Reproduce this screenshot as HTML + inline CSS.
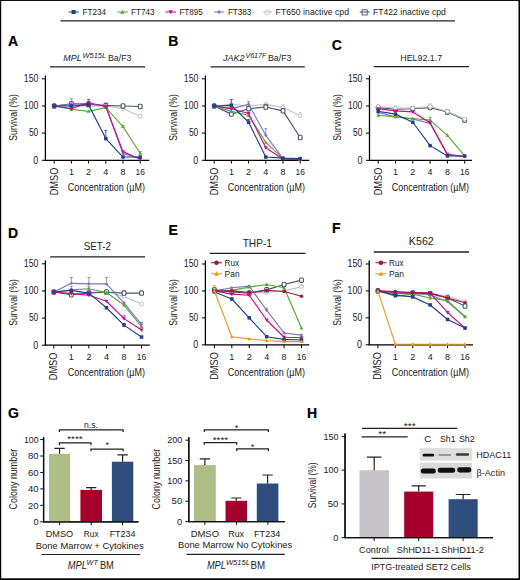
<!DOCTYPE html><html><head><meta charset="utf-8"><style>html,body{margin:0;padding:0;background:#fff;}svg{display:block;} text{font-family:"Liberation Sans", sans-serif;stroke:none;}</style></head><body>
<svg width="520" height="580" viewBox="0 0 520 580">
<rect x="0" y="0" width="520" height="580" fill="#fff"/>
<path d="M68.5 12H78.7" stroke="#21408a" stroke-width="1"/>
<rect x="71.60" y="10.00" width="4.00" height="4.00" fill="#21408a"/>
<text x="82.5" y="15.2" font-size="8.6" text-anchor="start" font-weight="normal" font-style="normal" fill="#222" textLength="23.5" lengthAdjust="spacingAndGlyphs">FT234</text>
<path d="M116.9 12H128" stroke="#58a932" stroke-width="1"/>
<path d="M122.45 9.70L124.65 13.70L120.25 13.70Z" fill="#58a932"/>
<text x="131" y="15.2" font-size="8.6" text-anchor="start" font-weight="normal" font-style="normal" fill="#222" textLength="23.5" lengthAdjust="spacingAndGlyphs">FT743</text>
<path d="M165.4 12H176" stroke="#cc0c82" stroke-width="1"/>
<path d="M170.70 14.30L172.90 10.30L168.50 10.30Z" fill="#cc0c82"/>
<text x="179.4" y="15.2" font-size="8.6" text-anchor="start" font-weight="normal" font-style="normal" fill="#222" textLength="23.5" lengthAdjust="spacingAndGlyphs">FT895</text>
<path d="M214 12H224" stroke="#8174c0" stroke-width="1"/>
<path d="M219.00 10.00L221.00 12.00L219.00 14.00L217.00 12.00Z" fill="#8174c0"/>
<text x="227.9" y="15.2" font-size="8.6" text-anchor="start" font-weight="normal" font-style="normal" fill="#222" textLength="23.5" lengthAdjust="spacingAndGlyphs">FT383</text>
<path d="M262.5 12H272" stroke="#c4c4c4" stroke-width="1"/>
<circle cx="267.25" cy="12.40" r="2.60" fill="none" stroke="#c4c4c4" stroke-width="0.9"/>
<text x="275.6" y="15.2" font-size="8.6" text-anchor="start" font-weight="normal" font-style="normal" fill="#222" textLength="73.4" lengthAdjust="spacingAndGlyphs">FT650 inactive cpd</text>
<path d="M359.7 12H369.6" stroke="#4a5470" stroke-width="1"/>
<rect x="362.05" y="9.80" width="5.20" height="5.20" fill="none" stroke="#4a5470" stroke-width="0.9"/>
<text x="373" y="15.2" font-size="8.6" text-anchor="start" font-weight="normal" font-style="normal" fill="#222" textLength="72.8" lengthAdjust="spacingAndGlyphs">FT422 inactive cpd</text>
<path d="M60.4 20.8H455" stroke="#222" stroke-width="1.3"/>
<text x="8.1" y="46" font-size="14.0" text-anchor="start" font-weight="bold" font-style="normal" fill="#000" style="stroke:#000;stroke-width:0.2px">A</text>
<text x="168.3" y="45.8" font-size="14.0" text-anchor="start" font-weight="bold" font-style="normal" fill="#000" style="stroke:#000;stroke-width:0.2px">B</text>
<text x="331.8" y="49.6" font-size="14.0" text-anchor="start" font-weight="bold" font-style="normal" fill="#000" style="stroke:#000;stroke-width:0.2px">C</text>
<text x="8.1" y="237.7" font-size="14.0" text-anchor="start" font-weight="bold" font-style="normal" fill="#000" style="stroke:#000;stroke-width:0.2px">D</text>
<text x="168.5" y="234.6" font-size="14.0" text-anchor="start" font-weight="bold" font-style="normal" fill="#000" style="stroke:#000;stroke-width:0.2px">E</text>
<text x="332" y="232.9" font-size="14.0" text-anchor="start" font-weight="bold" font-style="normal" fill="#000" style="stroke:#000;stroke-width:0.2px">F</text>
<text x="8.1" y="417.9" font-size="14.0" text-anchor="start" font-weight="bold" font-style="normal" fill="#000" style="stroke:#000;stroke-width:0.2px">G</text>
<text x="307.1" y="418.1" font-size="14.0" text-anchor="start" font-weight="bold" font-style="normal" fill="#000" style="stroke:#000;stroke-width:0.2px">H</text>
<path d="M50 66.9H145" stroke="#222" stroke-width="1.3"/>
<text x="63.3" y="60.7" font-size="9.9" text-anchor="start" font-weight="normal" font-style="italic" fill="#222" textLength="18.4" lengthAdjust="spacingAndGlyphs">MPL</text>
<text x="82.5" y="57.6" font-size="7.4" text-anchor="start" font-weight="normal" font-style="italic" fill="#222" textLength="23.6" lengthAdjust="spacingAndGlyphs">W515L</text>
<text x="108.0" y="60.7" font-size="9.9" text-anchor="start" font-weight="normal" font-style="normal" fill="#222" textLength="23.5" lengthAdjust="spacingAndGlyphs">Ba/F3</text>
<path d="M210.5 66.9H304.8" stroke="#222" stroke-width="1.3"/>
<text x="222.9" y="60.7" font-size="9.9" text-anchor="start" font-weight="normal" font-style="italic" fill="#222" textLength="21.6" lengthAdjust="spacingAndGlyphs">JAK2</text>
<text x="245.4" y="57.6" font-size="7.4" text-anchor="start" font-weight="normal" font-style="italic" fill="#222" textLength="21.0" lengthAdjust="spacingAndGlyphs">V617F</text>
<text x="268.0" y="60.7" font-size="9.9" text-anchor="start" font-weight="normal" font-style="normal" fill="#222" textLength="23.5" lengthAdjust="spacingAndGlyphs">Ba/F3</text>
<path d="M373.7 66.7H469" stroke="#222" stroke-width="1.3"/>
<text x="421.2" y="60.6" font-size="9.9" text-anchor="middle" font-weight="normal" font-style="normal" fill="#222" textLength="41.8" lengthAdjust="spacingAndGlyphs">HEL92.1.7</text>
<text transform="translate(16.7,117.4) rotate(-90)" font-size="10.4" text-anchor="middle" fill="#222" textLength="46.6" lengthAdjust="spacingAndGlyphs">Survival (%)</text>
<text x="67.7" y="191.2" font-size="11.3" fill="#222" textLength="77.3" lengthAdjust="spacingAndGlyphs">Concentration (&#181;M)</text>
<path d="M45.4 75.39999999999999V160.3H149.2" fill="none" stroke="#000" stroke-width="1.3"/>
<path d="M41.9 160.30H45.4" stroke="#000" stroke-width="1"/>
<text x="38.3" y="163.65" font-size="10.1" text-anchor="end" font-weight="normal" font-style="normal" fill="#222" textLength="5.0" lengthAdjust="spacingAndGlyphs">0</text>
<path d="M41.9 133.13H45.4" stroke="#000" stroke-width="1"/>
<text x="38.3" y="136.48" font-size="10.1" text-anchor="end" font-weight="normal" font-style="normal" fill="#222" textLength="9.4" lengthAdjust="spacingAndGlyphs">50</text>
<path d="M41.9 105.97H45.4" stroke="#000" stroke-width="1"/>
<text x="38.3" y="109.32" font-size="10.1" text-anchor="end" font-weight="normal" font-style="normal" fill="#222" textLength="14.5" lengthAdjust="spacingAndGlyphs">100</text>
<path d="M41.9 78.80H45.4" stroke="#000" stroke-width="1"/>
<text x="38.3" y="82.15" font-size="10.1" text-anchor="end" font-weight="normal" font-style="normal" fill="#222" textLength="14.5" lengthAdjust="spacingAndGlyphs">150</text>
<path d="M54.20 160.3V163.60000000000002" stroke="#000" stroke-width="1"/>
<path d="M71.40 160.3V163.60000000000002" stroke="#000" stroke-width="1"/>
<text x="71.40" y="175.40" font-size="9.9" text-anchor="middle" font-weight="normal" font-style="normal" fill="#222" textLength="5.0" lengthAdjust="spacingAndGlyphs">1</text>
<path d="M88.60 160.3V163.60000000000002" stroke="#000" stroke-width="1"/>
<text x="88.60" y="175.40" font-size="9.9" text-anchor="middle" font-weight="normal" font-style="normal" fill="#222" textLength="5.0" lengthAdjust="spacingAndGlyphs">2</text>
<path d="M105.80 160.3V163.60000000000002" stroke="#000" stroke-width="1"/>
<text x="105.80" y="175.40" font-size="9.9" text-anchor="middle" font-weight="normal" font-style="normal" fill="#222" textLength="5.0" lengthAdjust="spacingAndGlyphs">4</text>
<path d="M123.00 160.3V163.60000000000002" stroke="#000" stroke-width="1"/>
<text x="123.00" y="175.40" font-size="9.9" text-anchor="middle" font-weight="normal" font-style="normal" fill="#222" textLength="5.0" lengthAdjust="spacingAndGlyphs">8</text>
<path d="M140.20 160.3V163.60000000000002" stroke="#000" stroke-width="1"/>
<text x="140.20" y="175.40" font-size="9.9" text-anchor="middle" font-weight="normal" font-style="normal" fill="#222" textLength="9.4" lengthAdjust="spacingAndGlyphs">16</text>
<text transform="translate(57.50,167.70) rotate(-90)" font-size="10.4" text-anchor="end" fill="#222" textLength="27.6" lengthAdjust="spacingAndGlyphs">DMSO</text>
<path d="M54.20 105.97L71.40 105.97L88.60 105.97L105.80 105.97L123.00 108.68L140.20 116.29" fill="none" stroke="#c4c4c4" stroke-width="1.15" stroke-linejoin="round"/>
<circle cx="54.20" cy="105.97" r="1.9" fill="#fff" stroke="#b8b8b8" stroke-width="0.9"/>
<circle cx="71.40" cy="105.97" r="1.9" fill="#fff" stroke="#b8b8b8" stroke-width="0.9"/>
<circle cx="88.60" cy="105.97" r="1.9" fill="#fff" stroke="#b8b8b8" stroke-width="0.9"/>
<circle cx="105.80" cy="105.97" r="1.9" fill="#fff" stroke="#b8b8b8" stroke-width="0.9"/>
<circle cx="123.00" cy="108.68" r="1.9" fill="#fff" stroke="#b8b8b8" stroke-width="0.9"/>
<circle cx="140.20" cy="116.29" r="1.9" fill="#fff" stroke="#b8b8b8" stroke-width="0.9"/>
<path d="M54.20 105.97L71.40 103.79L88.60 104.34L105.80 105.42L123.00 105.97L140.20 106.51" fill="none" stroke="#4a5470" stroke-width="1.15" stroke-linejoin="round"/>
<rect x="52.30" y="103.77" width="3.8" height="4.4" rx="1.0" fill="#fff" stroke="#4a5470" stroke-width="1.1"/>
<rect x="69.50" y="101.59" width="3.8" height="4.4" rx="1.0" fill="#fff" stroke="#4a5470" stroke-width="1.1"/>
<rect x="86.70" y="102.14" width="3.8" height="4.4" rx="1.0" fill="#fff" stroke="#4a5470" stroke-width="1.1"/>
<rect x="103.90" y="103.22" width="3.8" height="4.4" rx="1.0" fill="#fff" stroke="#4a5470" stroke-width="1.1"/>
<rect x="121.10" y="103.77" width="3.8" height="4.4" rx="1.0" fill="#fff" stroke="#4a5470" stroke-width="1.1"/>
<rect x="138.30" y="104.31" width="3.8" height="4.4" rx="1.0" fill="#fff" stroke="#4a5470" stroke-width="1.1"/>
<path d="M54.20 105.97L71.40 104.34L88.60 103.25L105.80 106.51L123.00 153.78L140.20 158.13" fill="none" stroke="#8174c0" stroke-width="1.15" stroke-linejoin="round"/>
<path d="M71.40 104.34V98.90M69.80 98.90H73.00" stroke="#8174c0" stroke-width="0.8" fill="none"/>
<path d="M54.20 104.22L55.95 105.97L54.20 107.72L52.45 105.97Z" fill="#8174c0"/>
<path d="M71.40 102.59L73.15 104.34L71.40 106.09L69.65 104.34Z" fill="#8174c0"/>
<path d="M88.60 101.50L90.35 103.25L88.60 105.00L86.85 103.25Z" fill="#8174c0"/>
<path d="M105.80 104.76L107.55 106.51L105.80 108.26L104.05 106.51Z" fill="#8174c0"/>
<path d="M123.00 152.03L124.75 153.78L123.00 155.53L121.25 153.78Z" fill="#8174c0"/>
<path d="M140.20 156.38L141.95 158.13L140.20 159.88L138.45 158.13Z" fill="#8174c0"/>
<path d="M54.20 105.97L71.40 109.23L88.60 111.40L105.80 107.60L123.00 126.61L140.20 153.24" fill="none" stroke="#58a932" stroke-width="1.15" stroke-linejoin="round"/>
<path d="M123.00 126.61V125.53M121.40 125.53H124.60" stroke="#58a932" stroke-width="0.8" fill="none"/>
<path d="M140.20 153.24V151.61M138.60 151.61H141.80" stroke="#58a932" stroke-width="0.8" fill="none"/>
<path d="M54.20 103.92L56.15 107.42L52.25 107.42Z" fill="#58a932"/>
<path d="M71.40 107.18L73.35 110.68L69.45 110.68Z" fill="#58a932"/>
<path d="M88.60 109.35L90.55 112.85L86.65 112.85Z" fill="#58a932"/>
<path d="M105.80 105.55L107.75 109.05L103.85 109.05Z" fill="#58a932"/>
<path d="M123.00 124.56L124.95 128.06L121.05 128.06Z" fill="#58a932"/>
<path d="M140.20 151.19L142.15 154.69L138.25 154.69Z" fill="#58a932"/>
<path d="M54.20 105.97L71.40 108.68L88.60 102.71L105.80 106.51L123.00 151.61L140.20 159.21" fill="none" stroke="#cc0c82" stroke-width="1.15" stroke-linejoin="round"/>
<path d="M88.60 102.71V99.45M87.00 99.45H90.20" stroke="#cc0c82" stroke-width="0.8" fill="none"/>
<path d="M105.80 106.51V103.25M104.20 103.25H107.40" stroke="#cc0c82" stroke-width="0.8" fill="none"/>
<path d="M54.20 108.02L56.15 104.52L52.25 104.52Z" fill="#cc0c82"/>
<path d="M71.40 110.73L73.35 107.23L69.45 107.23Z" fill="#cc0c82"/>
<path d="M88.60 104.76L90.55 101.26L86.65 101.26Z" fill="#cc0c82"/>
<path d="M105.80 108.56L107.75 105.06L103.85 105.06Z" fill="#cc0c82"/>
<path d="M123.00 153.66L124.95 150.16L121.05 150.16Z" fill="#cc0c82"/>
<path d="M140.20 161.26L142.15 157.76L138.25 157.76Z" fill="#cc0c82"/>
<path d="M54.20 105.97L71.40 105.97L88.60 104.88L105.80 138.57L123.00 157.04L140.20 157.04" fill="none" stroke="#21408a" stroke-width="1.15" stroke-linejoin="round"/>
<path d="M105.80 138.57V130.42M104.20 130.42H107.40" stroke="#21408a" stroke-width="0.8" fill="none"/>
<rect x="52.45" y="104.22" width="3.50" height="3.50" fill="#21408a"/>
<rect x="69.65" y="104.22" width="3.50" height="3.50" fill="#21408a"/>
<rect x="86.85" y="103.13" width="3.50" height="3.50" fill="#21408a"/>
<rect x="104.05" y="136.82" width="3.50" height="3.50" fill="#21408a"/>
<rect x="121.25" y="155.29" width="3.50" height="3.50" fill="#21408a"/>
<rect x="138.45" y="155.29" width="3.50" height="3.50" fill="#21408a"/>
<text transform="translate(177.2,117.4) rotate(-90)" font-size="10.4" text-anchor="middle" fill="#222" textLength="46.6" lengthAdjust="spacingAndGlyphs">Survival (%)</text>
<text x="227.7" y="191.2" font-size="11.3" fill="#222" textLength="77.3" lengthAdjust="spacingAndGlyphs">Concentration (&#181;M)</text>
<path d="M205.4 75.39999999999999V160.3H309.2" fill="none" stroke="#000" stroke-width="1.3"/>
<path d="M201.9 160.30H205.4" stroke="#000" stroke-width="1"/>
<text x="198.3" y="163.65" font-size="10.1" text-anchor="end" font-weight="normal" font-style="normal" fill="#222" textLength="5.0" lengthAdjust="spacingAndGlyphs">0</text>
<path d="M201.9 133.13H205.4" stroke="#000" stroke-width="1"/>
<text x="198.3" y="136.48" font-size="10.1" text-anchor="end" font-weight="normal" font-style="normal" fill="#222" textLength="9.4" lengthAdjust="spacingAndGlyphs">50</text>
<path d="M201.9 105.97H205.4" stroke="#000" stroke-width="1"/>
<text x="198.3" y="109.32" font-size="10.1" text-anchor="end" font-weight="normal" font-style="normal" fill="#222" textLength="14.5" lengthAdjust="spacingAndGlyphs">100</text>
<path d="M201.9 78.80H205.4" stroke="#000" stroke-width="1"/>
<text x="198.3" y="82.15" font-size="10.1" text-anchor="end" font-weight="normal" font-style="normal" fill="#222" textLength="14.5" lengthAdjust="spacingAndGlyphs">150</text>
<path d="M214.20 160.3V163.60000000000002" stroke="#000" stroke-width="1"/>
<path d="M231.40 160.3V163.60000000000002" stroke="#000" stroke-width="1"/>
<text x="231.40" y="175.40" font-size="9.9" text-anchor="middle" font-weight="normal" font-style="normal" fill="#222" textLength="5.0" lengthAdjust="spacingAndGlyphs">1</text>
<path d="M248.60 160.3V163.60000000000002" stroke="#000" stroke-width="1"/>
<text x="248.60" y="175.40" font-size="9.9" text-anchor="middle" font-weight="normal" font-style="normal" fill="#222" textLength="5.0" lengthAdjust="spacingAndGlyphs">2</text>
<path d="M265.80 160.3V163.60000000000002" stroke="#000" stroke-width="1"/>
<text x="265.80" y="175.40" font-size="9.9" text-anchor="middle" font-weight="normal" font-style="normal" fill="#222" textLength="5.0" lengthAdjust="spacingAndGlyphs">4</text>
<path d="M283.00 160.3V163.60000000000002" stroke="#000" stroke-width="1"/>
<text x="283.00" y="175.40" font-size="9.9" text-anchor="middle" font-weight="normal" font-style="normal" fill="#222" textLength="5.0" lengthAdjust="spacingAndGlyphs">8</text>
<path d="M300.20 160.3V163.60000000000002" stroke="#000" stroke-width="1"/>
<text x="300.20" y="175.40" font-size="9.9" text-anchor="middle" font-weight="normal" font-style="normal" fill="#222" textLength="9.4" lengthAdjust="spacingAndGlyphs">16</text>
<text transform="translate(217.50,167.70) rotate(-90)" font-size="10.4" text-anchor="end" fill="#222" textLength="27.6" lengthAdjust="spacingAndGlyphs">DMSO</text>
<path d="M214.20 105.97L231.40 104.34L248.60 105.97L265.80 104.34L283.00 107.60L300.20 115.75" fill="none" stroke="#c4c4c4" stroke-width="1.15" stroke-linejoin="round"/>
<path d="M283.00 107.60V104.34M281.40 104.34H284.60" stroke="#c4c4c4" stroke-width="0.8" fill="none"/>
<path d="M300.20 115.75V112.49M298.60 112.49H301.80" stroke="#c4c4c4" stroke-width="0.8" fill="none"/>
<circle cx="214.20" cy="105.97" r="1.9" fill="#fff" stroke="#b8b8b8" stroke-width="0.9"/>
<circle cx="231.40" cy="104.34" r="1.9" fill="#fff" stroke="#b8b8b8" stroke-width="0.9"/>
<circle cx="248.60" cy="105.97" r="1.9" fill="#fff" stroke="#b8b8b8" stroke-width="0.9"/>
<circle cx="265.80" cy="104.34" r="1.9" fill="#fff" stroke="#b8b8b8" stroke-width="0.9"/>
<circle cx="283.00" cy="107.60" r="1.9" fill="#fff" stroke="#b8b8b8" stroke-width="0.9"/>
<circle cx="300.20" cy="115.75" r="1.9" fill="#fff" stroke="#b8b8b8" stroke-width="0.9"/>
<path d="M214.20 105.97L231.40 114.12L248.60 108.68L265.80 107.05L283.00 110.86L300.20 137.48" fill="none" stroke="#4a5470" stroke-width="1.15" stroke-linejoin="round"/>
<path d="M265.80 107.05V104.34M264.20 104.34H267.40" stroke="#4a5470" stroke-width="0.8" fill="none"/>
<rect x="212.30" y="103.77" width="3.8" height="4.4" rx="1.0" fill="#fff" stroke="#4a5470" stroke-width="1.1"/>
<rect x="229.50" y="111.92" width="3.8" height="4.4" rx="1.0" fill="#fff" stroke="#4a5470" stroke-width="1.1"/>
<rect x="246.70" y="106.48" width="3.8" height="4.4" rx="1.0" fill="#fff" stroke="#4a5470" stroke-width="1.1"/>
<rect x="263.90" y="104.85" width="3.8" height="4.4" rx="1.0" fill="#fff" stroke="#4a5470" stroke-width="1.1"/>
<rect x="281.10" y="108.66" width="3.8" height="4.4" rx="1.0" fill="#fff" stroke="#4a5470" stroke-width="1.1"/>
<rect x="298.30" y="135.28" width="3.8" height="4.4" rx="1.0" fill="#fff" stroke="#4a5470" stroke-width="1.1"/>
<path d="M214.20 105.97L231.40 108.68L248.60 104.34L265.80 135.31L283.00 158.67L300.20 159.21" fill="none" stroke="#8174c0" stroke-width="1.15" stroke-linejoin="round"/>
<path d="M248.60 104.34V101.62M247.00 101.62H250.20" stroke="#8174c0" stroke-width="0.8" fill="none"/>
<path d="M265.80 135.31V128.79M264.20 128.79H267.40" stroke="#8174c0" stroke-width="0.8" fill="none"/>
<path d="M214.20 104.22L215.95 105.97L214.20 107.72L212.45 105.97Z" fill="#8174c0"/>
<path d="M231.40 106.93L233.15 108.68L231.40 110.43L229.65 108.68Z" fill="#8174c0"/>
<path d="M248.60 102.59L250.35 104.34L248.60 106.09L246.85 104.34Z" fill="#8174c0"/>
<path d="M265.80 133.56L267.55 135.31L265.80 137.06L264.05 135.31Z" fill="#8174c0"/>
<path d="M283.00 156.92L284.75 158.67L283.00 160.42L281.25 158.67Z" fill="#8174c0"/>
<path d="M300.20 157.46L301.95 159.21L300.20 160.96L298.45 159.21Z" fill="#8174c0"/>
<path d="M214.20 105.97L231.40 111.40L248.60 115.20L265.80 142.37L283.00 158.67L300.20 159.21" fill="none" stroke="#58a932" stroke-width="1.15" stroke-linejoin="round"/>
<path d="M214.20 103.92L216.15 107.42L212.25 107.42Z" fill="#58a932"/>
<path d="M231.40 109.35L233.35 112.85L229.45 112.85Z" fill="#58a932"/>
<path d="M248.60 113.15L250.55 116.65L246.65 116.65Z" fill="#58a932"/>
<path d="M265.80 140.32L267.75 143.82L263.85 143.82Z" fill="#58a932"/>
<path d="M283.00 156.62L284.95 160.12L281.05 160.12Z" fill="#58a932"/>
<path d="M300.20 157.16L302.15 160.66L298.25 160.66Z" fill="#58a932"/>
<path d="M214.20 105.97L231.40 108.68L248.60 113.57L265.80 147.80L283.00 159.21L300.20 159.76" fill="none" stroke="#cc0c82" stroke-width="1.15" stroke-linejoin="round"/>
<path d="M214.20 108.02L216.15 104.52L212.25 104.52Z" fill="#cc0c82"/>
<path d="M231.40 110.73L233.35 107.23L229.45 107.23Z" fill="#cc0c82"/>
<path d="M248.60 115.62L250.55 112.12L246.65 112.12Z" fill="#cc0c82"/>
<path d="M265.80 149.85L267.75 146.35L263.85 146.35Z" fill="#cc0c82"/>
<path d="M283.00 161.26L284.95 157.76L281.05 157.76Z" fill="#cc0c82"/>
<path d="M300.20 161.81L302.15 158.31L298.25 158.31Z" fill="#cc0c82"/>
<path d="M214.20 105.97L231.40 105.42L248.60 122.27L265.80 157.04L283.00 158.13L300.20 158.67" fill="none" stroke="#21408a" stroke-width="1.15" stroke-linejoin="round"/>
<path d="M231.40 105.42V99.45M229.80 99.45H233.00" stroke="#21408a" stroke-width="0.8" fill="none"/>
<path d="M248.60 122.27V119.55M247.00 119.55H250.20" stroke="#21408a" stroke-width="0.8" fill="none"/>
<rect x="212.45" y="104.22" width="3.50" height="3.50" fill="#21408a"/>
<rect x="229.65" y="103.67" width="3.50" height="3.50" fill="#21408a"/>
<rect x="246.85" y="120.52" width="3.50" height="3.50" fill="#21408a"/>
<rect x="264.05" y="155.29" width="3.50" height="3.50" fill="#21408a"/>
<rect x="281.25" y="156.38" width="3.50" height="3.50" fill="#21408a"/>
<rect x="298.45" y="156.92" width="3.50" height="3.50" fill="#21408a"/>
<text transform="translate(341.3,117.4) rotate(-90)" font-size="10.4" text-anchor="middle" fill="#222" textLength="46.6" lengthAdjust="spacingAndGlyphs">Survival (%)</text>
<text x="391.8" y="191.2" font-size="11.3" fill="#222" textLength="77.2" lengthAdjust="spacingAndGlyphs">Concentration (&#181;M)</text>
<path d="M369.5 75.39999999999999V160.3H472" fill="none" stroke="#000" stroke-width="1.3"/>
<path d="M366.0 160.30H369.5" stroke="#000" stroke-width="1"/>
<text x="362.4" y="163.65" font-size="10.1" text-anchor="end" font-weight="normal" font-style="normal" fill="#222" textLength="5.0" lengthAdjust="spacingAndGlyphs">0</text>
<path d="M366.0 133.13H369.5" stroke="#000" stroke-width="1"/>
<text x="362.4" y="136.48" font-size="10.1" text-anchor="end" font-weight="normal" font-style="normal" fill="#222" textLength="9.4" lengthAdjust="spacingAndGlyphs">50</text>
<path d="M366.0 105.97H369.5" stroke="#000" stroke-width="1"/>
<text x="362.4" y="109.32" font-size="10.1" text-anchor="end" font-weight="normal" font-style="normal" fill="#222" textLength="14.5" lengthAdjust="spacingAndGlyphs">100</text>
<path d="M366.0 78.80H369.5" stroke="#000" stroke-width="1"/>
<text x="362.4" y="82.15" font-size="10.1" text-anchor="end" font-weight="normal" font-style="normal" fill="#222" textLength="14.5" lengthAdjust="spacingAndGlyphs">150</text>
<path d="M378.20 160.3V163.60000000000002" stroke="#000" stroke-width="1"/>
<path d="M395.50 160.3V163.60000000000002" stroke="#000" stroke-width="1"/>
<text x="395.50" y="175.40" font-size="9.9" text-anchor="middle" font-weight="normal" font-style="normal" fill="#222" textLength="5.0" lengthAdjust="spacingAndGlyphs">1</text>
<path d="M412.80 160.3V163.60000000000002" stroke="#000" stroke-width="1"/>
<text x="412.80" y="175.40" font-size="9.9" text-anchor="middle" font-weight="normal" font-style="normal" fill="#222" textLength="5.0" lengthAdjust="spacingAndGlyphs">2</text>
<path d="M430.10 160.3V163.60000000000002" stroke="#000" stroke-width="1"/>
<text x="430.10" y="175.40" font-size="9.9" text-anchor="middle" font-weight="normal" font-style="normal" fill="#222" textLength="5.0" lengthAdjust="spacingAndGlyphs">4</text>
<path d="M447.40 160.3V163.60000000000002" stroke="#000" stroke-width="1"/>
<text x="447.40" y="175.40" font-size="9.9" text-anchor="middle" font-weight="normal" font-style="normal" fill="#222" textLength="5.0" lengthAdjust="spacingAndGlyphs">8</text>
<path d="M464.70 160.3V163.60000000000002" stroke="#000" stroke-width="1"/>
<text x="464.70" y="175.40" font-size="9.9" text-anchor="middle" font-weight="normal" font-style="normal" fill="#222" textLength="9.4" lengthAdjust="spacingAndGlyphs">16</text>
<text transform="translate(381.50,167.70) rotate(-90)" font-size="10.4" text-anchor="end" fill="#222" textLength="27.6" lengthAdjust="spacingAndGlyphs">DMSO</text>
<path d="M378.20 107.60L395.50 109.23L412.80 108.68L430.10 107.60L447.40 111.94L464.70 120.09" fill="none" stroke="#4a5470" stroke-width="1.15" stroke-linejoin="round"/>
<rect x="376.30" y="105.40" width="3.8" height="4.4" rx="1.0" fill="#fff" stroke="#4a5470" stroke-width="1.1"/>
<rect x="393.60" y="107.03" width="3.8" height="4.4" rx="1.0" fill="#fff" stroke="#4a5470" stroke-width="1.1"/>
<rect x="410.90" y="106.48" width="3.8" height="4.4" rx="1.0" fill="#fff" stroke="#4a5470" stroke-width="1.1"/>
<rect x="428.20" y="105.40" width="3.8" height="4.4" rx="1.0" fill="#fff" stroke="#4a5470" stroke-width="1.1"/>
<rect x="445.50" y="109.74" width="3.8" height="4.4" rx="1.0" fill="#fff" stroke="#4a5470" stroke-width="1.1"/>
<rect x="462.80" y="117.89" width="3.8" height="4.4" rx="1.0" fill="#fff" stroke="#4a5470" stroke-width="1.1"/>
<path d="M378.20 106.51L395.50 108.14L412.80 108.14L430.10 106.51L447.40 111.40L464.70 119.01" fill="none" stroke="#c4c4c4" stroke-width="1.15" stroke-linejoin="round"/>
<path d="M395.50 108.14V105.97M393.90 105.97H397.10" stroke="#c4c4c4" stroke-width="0.8" fill="none"/>
<path d="M430.10 106.51V103.79M428.50 103.79H431.70" stroke="#c4c4c4" stroke-width="0.8" fill="none"/>
<path d="M464.70 119.01V117.92M463.10 117.92H466.30" stroke="#c4c4c4" stroke-width="0.8" fill="none"/>
<circle cx="378.20" cy="106.51" r="1.9" fill="#fff" stroke="#b8b8b8" stroke-width="0.9"/>
<circle cx="395.50" cy="108.14" r="1.9" fill="#fff" stroke="#b8b8b8" stroke-width="0.9"/>
<circle cx="412.80" cy="108.14" r="1.9" fill="#fff" stroke="#b8b8b8" stroke-width="0.9"/>
<circle cx="430.10" cy="106.51" r="1.9" fill="#fff" stroke="#b8b8b8" stroke-width="0.9"/>
<circle cx="447.40" cy="111.40" r="1.9" fill="#fff" stroke="#b8b8b8" stroke-width="0.9"/>
<circle cx="464.70" cy="119.01" r="1.9" fill="#fff" stroke="#b8b8b8" stroke-width="0.9"/>
<path d="M378.20 112.49L395.50 116.83L412.80 119.01L430.10 123.35L447.40 154.87L464.70 156.50" fill="none" stroke="#8174c0" stroke-width="1.15" stroke-linejoin="round"/>
<path d="M378.20 110.74L379.95 112.49L378.20 114.24L376.45 112.49Z" fill="#8174c0"/>
<path d="M395.50 115.08L397.25 116.83L395.50 118.58L393.75 116.83Z" fill="#8174c0"/>
<path d="M412.80 117.26L414.55 119.01L412.80 120.76L411.05 119.01Z" fill="#8174c0"/>
<path d="M430.10 121.60L431.85 123.35L430.10 125.10L428.35 123.35Z" fill="#8174c0"/>
<path d="M447.40 153.12L449.15 154.87L447.40 156.62L445.65 154.87Z" fill="#8174c0"/>
<path d="M464.70 154.75L466.45 156.50L464.70 158.25L462.95 156.50Z" fill="#8174c0"/>
<path d="M378.20 115.20L395.50 116.83L412.80 118.46L430.10 120.09L447.40 135.31L464.70 155.95" fill="none" stroke="#58a932" stroke-width="1.15" stroke-linejoin="round"/>
<path d="M430.10 120.09V117.38M428.50 117.38H431.70" stroke="#58a932" stroke-width="0.8" fill="none"/>
<path d="M378.20 113.15L380.15 116.65L376.25 116.65Z" fill="#58a932"/>
<path d="M395.50 114.78L397.45 118.28L393.55 118.28Z" fill="#58a932"/>
<path d="M412.80 116.41L414.75 119.91L410.85 119.91Z" fill="#58a932"/>
<path d="M430.10 118.04L432.05 121.54L428.15 121.54Z" fill="#58a932"/>
<path d="M447.40 133.26L449.35 136.76L445.45 136.76Z" fill="#58a932"/>
<path d="M464.70 153.90L466.65 157.40L462.75 157.40Z" fill="#58a932"/>
<path d="M378.20 108.68L395.50 110.86L412.80 111.94L430.10 122.81L447.40 154.32L464.70 156.50" fill="none" stroke="#cc0c82" stroke-width="1.15" stroke-linejoin="round"/>
<path d="M378.20 110.73L380.15 107.23L376.25 107.23Z" fill="#cc0c82"/>
<path d="M395.50 112.91L397.45 109.41L393.55 109.41Z" fill="#cc0c82"/>
<path d="M412.80 113.99L414.75 110.49L410.85 110.49Z" fill="#cc0c82"/>
<path d="M430.10 124.86L432.05 121.36L428.15 121.36Z" fill="#cc0c82"/>
<path d="M447.40 156.37L449.35 152.87L445.45 152.87Z" fill="#cc0c82"/>
<path d="M464.70 158.55L466.65 155.05L462.75 155.05Z" fill="#cc0c82"/>
<path d="M378.20 111.40L395.50 114.12L412.80 122.27L430.10 145.63L447.40 155.95L464.70 155.95" fill="none" stroke="#21408a" stroke-width="1.15" stroke-linejoin="round"/>
<rect x="376.45" y="109.65" width="3.50" height="3.50" fill="#21408a"/>
<rect x="393.75" y="112.37" width="3.50" height="3.50" fill="#21408a"/>
<rect x="411.05" y="120.52" width="3.50" height="3.50" fill="#21408a"/>
<rect x="428.35" y="143.88" width="3.50" height="3.50" fill="#21408a"/>
<rect x="445.65" y="154.20" width="3.50" height="3.50" fill="#21408a"/>
<rect x="462.95" y="154.20" width="3.50" height="3.50" fill="#21408a"/>
<path d="M50.2 256.8H145" stroke="#222" stroke-width="1.3"/>
<text x="97.4" y="250.1" font-size="11" text-anchor="middle" font-weight="normal" font-style="normal" fill="#222" textLength="27.2" lengthAdjust="spacingAndGlyphs">SET-2</text>
<path d="M209.7 253.4H305.5" stroke="#222" stroke-width="1.3"/>
<text x="257.3" y="247.4" font-size="11" text-anchor="middle" font-weight="normal" font-style="normal" fill="#222" textLength="29.3" lengthAdjust="spacingAndGlyphs">THP-1</text>
<path d="M373.8 252H469" stroke="#222" stroke-width="1.3"/>
<text x="421.3" y="245.4" font-size="11" text-anchor="middle" font-weight="normal" font-style="normal" fill="#222" textLength="24.9" lengthAdjust="spacingAndGlyphs">K562</text>
<text transform="translate(17.2,302.5) rotate(-90)" font-size="10.4" text-anchor="middle" fill="#222" textLength="46.6" lengthAdjust="spacingAndGlyphs">Survival (%)</text>
<text x="67.7" y="375.8" font-size="11.3" fill="#222" textLength="77.3" lengthAdjust="spacingAndGlyphs">Concentration (&#181;M)</text>
<path d="M45.4 260.40000000000003V345.2H149.8" fill="none" stroke="#000" stroke-width="1.3"/>
<path d="M41.9 345.20H45.4" stroke="#000" stroke-width="1"/>
<text x="38.3" y="348.55" font-size="10.1" text-anchor="end" font-weight="normal" font-style="normal" fill="#222" textLength="5.0" lengthAdjust="spacingAndGlyphs">0</text>
<path d="M41.9 318.07H45.4" stroke="#000" stroke-width="1"/>
<text x="38.3" y="321.42" font-size="10.1" text-anchor="end" font-weight="normal" font-style="normal" fill="#222" textLength="9.4" lengthAdjust="spacingAndGlyphs">50</text>
<path d="M41.9 290.93H45.4" stroke="#000" stroke-width="1"/>
<text x="38.3" y="294.28" font-size="10.1" text-anchor="end" font-weight="normal" font-style="normal" fill="#222" textLength="14.5" lengthAdjust="spacingAndGlyphs">100</text>
<path d="M41.9 263.80H45.4" stroke="#000" stroke-width="1"/>
<text x="38.3" y="267.15" font-size="10.1" text-anchor="end" font-weight="normal" font-style="normal" fill="#222" textLength="14.5" lengthAdjust="spacingAndGlyphs">150</text>
<path d="M53.80 345.2V348.5" stroke="#000" stroke-width="1"/>
<path d="M71.35 345.2V348.5" stroke="#000" stroke-width="1"/>
<text x="71.35" y="360.30" font-size="9.9" text-anchor="middle" font-weight="normal" font-style="normal" fill="#222" textLength="5.0" lengthAdjust="spacingAndGlyphs">1</text>
<path d="M88.90 345.2V348.5" stroke="#000" stroke-width="1"/>
<text x="88.90" y="360.30" font-size="9.9" text-anchor="middle" font-weight="normal" font-style="normal" fill="#222" textLength="5.0" lengthAdjust="spacingAndGlyphs">2</text>
<path d="M106.45 345.2V348.5" stroke="#000" stroke-width="1"/>
<text x="106.45" y="360.30" font-size="9.9" text-anchor="middle" font-weight="normal" font-style="normal" fill="#222" textLength="5.0" lengthAdjust="spacingAndGlyphs">4</text>
<path d="M124.00 345.2V348.5" stroke="#000" stroke-width="1"/>
<text x="124.00" y="360.30" font-size="9.9" text-anchor="middle" font-weight="normal" font-style="normal" fill="#222" textLength="5.0" lengthAdjust="spacingAndGlyphs">8</text>
<path d="M141.55 345.2V348.5" stroke="#000" stroke-width="1"/>
<text x="141.55" y="360.30" font-size="9.9" text-anchor="middle" font-weight="normal" font-style="normal" fill="#222" textLength="9.4" lengthAdjust="spacingAndGlyphs">16</text>
<text transform="translate(57.10,352.60) rotate(-90)" font-size="10.4" text-anchor="end" fill="#222" textLength="27.6" lengthAdjust="spacingAndGlyphs">DMSO</text>
<path d="M53.80 292.02L71.35 293.65L88.90 292.56L106.45 291.48L124.00 296.36L141.55 303.96" fill="none" stroke="#c4c4c4" stroke-width="1.15" stroke-linejoin="round"/>
<path d="M124.00 296.36V293.10M122.40 293.10H125.60" stroke="#c4c4c4" stroke-width="0.8" fill="none"/>
<circle cx="53.80" cy="292.02" r="1.9" fill="#fff" stroke="#b8b8b8" stroke-width="0.9"/>
<circle cx="71.35" cy="293.65" r="1.9" fill="#fff" stroke="#b8b8b8" stroke-width="0.9"/>
<circle cx="88.90" cy="292.56" r="1.9" fill="#fff" stroke="#b8b8b8" stroke-width="0.9"/>
<circle cx="106.45" cy="291.48" r="1.9" fill="#fff" stroke="#b8b8b8" stroke-width="0.9"/>
<circle cx="124.00" cy="296.36" r="1.9" fill="#fff" stroke="#b8b8b8" stroke-width="0.9"/>
<circle cx="141.55" cy="303.96" r="1.9" fill="#fff" stroke="#b8b8b8" stroke-width="0.9"/>
<path d="M53.80 292.02L71.35 294.73L88.90 293.10L106.45 292.02L124.00 293.10L141.55 293.10" fill="none" stroke="#4a5470" stroke-width="1.15" stroke-linejoin="round"/>
<rect x="51.90" y="289.82" width="3.8" height="4.4" rx="1.0" fill="#fff" stroke="#4a5470" stroke-width="1.1"/>
<rect x="69.45" y="292.53" width="3.8" height="4.4" rx="1.0" fill="#fff" stroke="#4a5470" stroke-width="1.1"/>
<rect x="87.00" y="290.90" width="3.8" height="4.4" rx="1.0" fill="#fff" stroke="#4a5470" stroke-width="1.1"/>
<rect x="104.55" y="289.82" width="3.8" height="4.4" rx="1.0" fill="#fff" stroke="#4a5470" stroke-width="1.1"/>
<rect x="122.10" y="290.90" width="3.8" height="4.4" rx="1.0" fill="#fff" stroke="#4a5470" stroke-width="1.1"/>
<rect x="139.65" y="290.90" width="3.8" height="4.4" rx="1.0" fill="#fff" stroke="#4a5470" stroke-width="1.1"/>
<path d="M53.80 292.02L71.35 283.34L88.90 283.88L106.45 283.88L124.00 302.87L141.55 324.58" fill="none" stroke="#8174c0" stroke-width="1.15" stroke-linejoin="round"/>
<path d="M71.35 283.34V277.37M69.75 277.37H72.95" stroke="#8174c0" stroke-width="0.8" fill="none"/>
<path d="M88.90 283.88V277.37M87.30 277.37H90.50" stroke="#8174c0" stroke-width="0.8" fill="none"/>
<path d="M106.45 283.88V277.37M104.85 277.37H108.05" stroke="#8174c0" stroke-width="0.8" fill="none"/>
<path d="M141.55 324.58V322.41M139.95 322.41H143.15" stroke="#8174c0" stroke-width="0.8" fill="none"/>
<path d="M53.80 290.27L55.55 292.02L53.80 293.77L52.05 292.02Z" fill="#8174c0"/>
<path d="M71.35 281.59L73.10 283.34L71.35 285.09L69.60 283.34Z" fill="#8174c0"/>
<path d="M88.90 282.13L90.65 283.88L88.90 285.63L87.15 283.88Z" fill="#8174c0"/>
<path d="M106.45 282.13L108.20 283.88L106.45 285.63L104.70 283.88Z" fill="#8174c0"/>
<path d="M124.00 301.12L125.75 302.87L124.00 304.62L122.25 302.87Z" fill="#8174c0"/>
<path d="M141.55 322.83L143.30 324.58L141.55 326.33L139.80 324.58Z" fill="#8174c0"/>
<path d="M53.80 292.02L71.35 289.85L88.90 288.76L106.45 292.56L124.00 305.04L141.55 326.75" fill="none" stroke="#58a932" stroke-width="1.15" stroke-linejoin="round"/>
<path d="M71.35 289.85V286.59M69.75 286.59H72.95" stroke="#58a932" stroke-width="0.8" fill="none"/>
<path d="M88.90 288.76V286.59M87.30 286.59H90.50" stroke="#58a932" stroke-width="0.8" fill="none"/>
<path d="M53.80 289.97L55.75 293.47L51.85 293.47Z" fill="#58a932"/>
<path d="M71.35 287.80L73.30 291.30L69.40 291.30Z" fill="#58a932"/>
<path d="M88.90 286.71L90.85 290.21L86.95 290.21Z" fill="#58a932"/>
<path d="M106.45 290.51L108.40 294.01L104.50 294.01Z" fill="#58a932"/>
<path d="M124.00 302.99L125.95 306.49L122.05 306.49Z" fill="#58a932"/>
<path d="M141.55 324.70L143.50 328.20L139.60 328.20Z" fill="#58a932"/>
<path d="M53.80 292.02L71.35 293.65L88.90 295.27L106.45 301.24L124.00 318.61L141.55 330.01" fill="none" stroke="#cc0c82" stroke-width="1.15" stroke-linejoin="round"/>
<path d="M124.00 318.61V315.90M122.40 315.90H125.60" stroke="#cc0c82" stroke-width="0.8" fill="none"/>
<path d="M53.80 294.07L55.75 290.57L51.85 290.57Z" fill="#cc0c82"/>
<path d="M71.35 295.70L73.30 292.20L69.40 292.20Z" fill="#cc0c82"/>
<path d="M88.90 297.32L90.85 293.82L86.95 293.82Z" fill="#cc0c82"/>
<path d="M106.45 303.29L108.40 299.79L104.50 299.79Z" fill="#cc0c82"/>
<path d="M124.00 320.66L125.95 317.16L122.05 317.16Z" fill="#cc0c82"/>
<path d="M141.55 332.06L143.50 328.56L139.60 328.56Z" fill="#cc0c82"/>
<path d="M53.80 292.02L71.35 290.39L88.90 293.10L106.45 307.76L124.00 325.12L141.55 337.06" fill="none" stroke="#21408a" stroke-width="1.15" stroke-linejoin="round"/>
<path d="M124.00 325.12V323.49M122.40 323.49H125.60" stroke="#21408a" stroke-width="0.8" fill="none"/>
<rect x="52.05" y="290.27" width="3.50" height="3.50" fill="#21408a"/>
<rect x="69.60" y="288.64" width="3.50" height="3.50" fill="#21408a"/>
<rect x="87.15" y="291.35" width="3.50" height="3.50" fill="#21408a"/>
<rect x="104.70" y="306.01" width="3.50" height="3.50" fill="#21408a"/>
<rect x="122.25" y="323.37" width="3.50" height="3.50" fill="#21408a"/>
<rect x="139.80" y="335.31" width="3.50" height="3.50" fill="#21408a"/>
<text transform="translate(177.2,302.5) rotate(-90)" font-size="10.4" text-anchor="middle" fill="#222" textLength="46.6" lengthAdjust="spacingAndGlyphs">Survival (%)</text>
<text x="227.7" y="375.8" font-size="11.3" fill="#222" textLength="77.3" lengthAdjust="spacingAndGlyphs">Concentration (&#181;M)</text>
<path d="M205.4 260.6V344.8H309.2" fill="none" stroke="#000" stroke-width="1.3"/>
<path d="M201.9 344.80H205.4" stroke="#000" stroke-width="1"/>
<text x="198.3" y="348.15" font-size="10.1" text-anchor="end" font-weight="normal" font-style="normal" fill="#222" textLength="5.0" lengthAdjust="spacingAndGlyphs">0</text>
<path d="M201.9 317.87H205.4" stroke="#000" stroke-width="1"/>
<text x="198.3" y="321.22" font-size="10.1" text-anchor="end" font-weight="normal" font-style="normal" fill="#222" textLength="9.4" lengthAdjust="spacingAndGlyphs">50</text>
<path d="M201.9 290.93H205.4" stroke="#000" stroke-width="1"/>
<text x="198.3" y="294.28" font-size="10.1" text-anchor="end" font-weight="normal" font-style="normal" fill="#222" textLength="14.5" lengthAdjust="spacingAndGlyphs">100</text>
<path d="M201.9 264.00H205.4" stroke="#000" stroke-width="1"/>
<text x="198.3" y="267.35" font-size="10.1" text-anchor="end" font-weight="normal" font-style="normal" fill="#222" textLength="14.5" lengthAdjust="spacingAndGlyphs">150</text>
<path d="M214.40 344.8V348.1" stroke="#000" stroke-width="1"/>
<path d="M231.82 344.8V348.1" stroke="#000" stroke-width="1"/>
<text x="231.82" y="359.90" font-size="9.9" text-anchor="middle" font-weight="normal" font-style="normal" fill="#222" textLength="5.0" lengthAdjust="spacingAndGlyphs">1</text>
<path d="M249.24 344.8V348.1" stroke="#000" stroke-width="1"/>
<text x="249.24" y="359.90" font-size="9.9" text-anchor="middle" font-weight="normal" font-style="normal" fill="#222" textLength="5.0" lengthAdjust="spacingAndGlyphs">2</text>
<path d="M266.66 344.8V348.1" stroke="#000" stroke-width="1"/>
<text x="266.66" y="359.90" font-size="9.9" text-anchor="middle" font-weight="normal" font-style="normal" fill="#222" textLength="5.0" lengthAdjust="spacingAndGlyphs">4</text>
<path d="M284.08 344.8V348.1" stroke="#000" stroke-width="1"/>
<text x="284.08" y="359.90" font-size="9.9" text-anchor="middle" font-weight="normal" font-style="normal" fill="#222" textLength="5.0" lengthAdjust="spacingAndGlyphs">8</text>
<path d="M301.50 344.8V348.1" stroke="#000" stroke-width="1"/>
<text x="301.50" y="359.90" font-size="9.9" text-anchor="middle" font-weight="normal" font-style="normal" fill="#222" textLength="9.4" lengthAdjust="spacingAndGlyphs">16</text>
<text transform="translate(217.70,352.20) rotate(-90)" font-size="10.4" text-anchor="end" fill="#222" textLength="27.6" lengthAdjust="spacingAndGlyphs">DMSO</text>
<path d="M214.40 290.93L231.82 290.93L249.24 292.55L266.66 292.55L284.08 290.93L301.50 286.62" fill="none" stroke="#c4c4c4" stroke-width="1.15" stroke-linejoin="round"/>
<path d="M301.50 286.62V284.47M299.90 284.47H303.10" stroke="#c4c4c4" stroke-width="0.8" fill="none"/>
<circle cx="214.40" cy="290.93" r="1.9" fill="#fff" stroke="#b8b8b8" stroke-width="0.9"/>
<circle cx="231.82" cy="290.93" r="1.9" fill="#fff" stroke="#b8b8b8" stroke-width="0.9"/>
<circle cx="249.24" cy="292.55" r="1.9" fill="#fff" stroke="#b8b8b8" stroke-width="0.9"/>
<circle cx="266.66" cy="292.55" r="1.9" fill="#fff" stroke="#b8b8b8" stroke-width="0.9"/>
<circle cx="284.08" cy="290.93" r="1.9" fill="#fff" stroke="#b8b8b8" stroke-width="0.9"/>
<circle cx="301.50" cy="286.62" r="1.9" fill="#fff" stroke="#b8b8b8" stroke-width="0.9"/>
<path d="M214.40 289.86L231.82 292.01L249.24 293.09L266.66 289.86L284.08 284.47L301.50 280.16" fill="none" stroke="#4a5470" stroke-width="1.15" stroke-linejoin="round"/>
<rect x="212.50" y="287.66" width="3.8" height="4.4" rx="1.0" fill="#fff" stroke="#4a5470" stroke-width="1.1"/>
<rect x="229.92" y="289.81" width="3.8" height="4.4" rx="1.0" fill="#fff" stroke="#4a5470" stroke-width="1.1"/>
<rect x="247.34" y="290.89" width="3.8" height="4.4" rx="1.0" fill="#fff" stroke="#4a5470" stroke-width="1.1"/>
<rect x="264.76" y="287.66" width="3.8" height="4.4" rx="1.0" fill="#fff" stroke="#4a5470" stroke-width="1.1"/>
<rect x="282.18" y="282.27" width="3.8" height="4.4" rx="1.0" fill="#fff" stroke="#4a5470" stroke-width="1.1"/>
<rect x="299.60" y="277.96" width="3.8" height="4.4" rx="1.0" fill="#fff" stroke="#4a5470" stroke-width="1.1"/>
<path d="M214.40 290.93L231.82 287.70L249.24 286.09L266.66 310.33L284.08 332.95L301.50 335.10" fill="none" stroke="#8174c0" stroke-width="1.15" stroke-linejoin="round"/>
<path d="M266.66 310.33V308.17M265.06 308.17H268.26" stroke="#8174c0" stroke-width="0.8" fill="none"/>
<path d="M214.40 289.18L216.15 290.93L214.40 292.68L212.65 290.93Z" fill="#8174c0"/>
<path d="M231.82 285.95L233.57 287.70L231.82 289.45L230.07 287.70Z" fill="#8174c0"/>
<path d="M249.24 284.34L250.99 286.09L249.24 287.84L247.49 286.09Z" fill="#8174c0"/>
<path d="M266.66 308.58L268.41 310.33L266.66 312.08L264.91 310.33Z" fill="#8174c0"/>
<path d="M284.08 331.20L285.83 332.95L284.08 334.70L282.33 332.95Z" fill="#8174c0"/>
<path d="M301.50 333.35L303.25 335.10L301.50 336.85L299.75 335.10Z" fill="#8174c0"/>
<path d="M214.40 290.93L231.82 290.39L249.24 287.16L266.66 284.47L284.08 287.70L301.50 328.10" fill="none" stroke="#58a932" stroke-width="1.15" stroke-linejoin="round"/>
<path d="M214.40 288.88L216.35 292.38L212.45 292.38Z" fill="#58a932"/>
<path d="M231.82 288.34L233.77 291.84L229.87 291.84Z" fill="#58a932"/>
<path d="M249.24 285.11L251.19 288.61L247.29 288.61Z" fill="#58a932"/>
<path d="M266.66 282.42L268.61 285.92L264.71 285.92Z" fill="#58a932"/>
<path d="M284.08 285.65L286.03 289.15L282.13 289.15Z" fill="#58a932"/>
<path d="M301.50 326.05L303.45 329.55L299.55 329.55Z" fill="#58a932"/>
<path d="M214.40 290.93L231.82 294.17L249.24 295.24L266.66 320.02L284.08 337.26L301.50 337.80" fill="none" stroke="#cc0c82" stroke-width="1.15" stroke-linejoin="round"/>
<path d="M214.40 292.98L216.35 289.48L212.45 289.48Z" fill="#cc0c82"/>
<path d="M231.82 296.22L233.77 292.72L229.87 292.72Z" fill="#cc0c82"/>
<path d="M249.24 297.29L251.19 293.79L247.29 293.79Z" fill="#cc0c82"/>
<path d="M266.66 322.07L268.61 318.57L264.71 318.57Z" fill="#cc0c82"/>
<path d="M284.08 339.31L286.03 335.81L282.13 335.81Z" fill="#cc0c82"/>
<path d="M301.50 339.85L303.45 336.35L299.55 336.35Z" fill="#cc0c82"/>
<path d="M214.40 292.01L231.82 299.01L249.24 317.87L266.66 336.72L284.08 339.41L301.50 339.95" fill="none" stroke="#21408a" stroke-width="1.15" stroke-linejoin="round"/>
<rect x="212.65" y="290.26" width="3.50" height="3.50" fill="#21408a"/>
<rect x="230.07" y="297.26" width="3.50" height="3.50" fill="#21408a"/>
<rect x="247.49" y="316.12" width="3.50" height="3.50" fill="#21408a"/>
<rect x="264.91" y="334.97" width="3.50" height="3.50" fill="#21408a"/>
<rect x="282.33" y="337.66" width="3.50" height="3.50" fill="#21408a"/>
<rect x="299.75" y="338.20" width="3.50" height="3.50" fill="#21408a"/>
<path d="M214.40 290.93L231.82 290.93L249.24 292.55L266.66 290.39L284.08 291.47L301.50 296.32" fill="none" stroke="#a3163c" stroke-width="1.15" stroke-linejoin="round"/>
<circle cx="214.40" cy="290.93" r="1.75" fill="#a3163c"/>
<circle cx="231.82" cy="290.93" r="1.75" fill="#a3163c"/>
<circle cx="249.24" cy="292.55" r="1.75" fill="#a3163c"/>
<circle cx="266.66" cy="290.39" r="1.75" fill="#a3163c"/>
<circle cx="284.08" cy="291.47" r="1.75" fill="#a3163c"/>
<circle cx="301.50" cy="296.32" r="1.75" fill="#a3163c"/>
<path d="M214.40 290.93L231.82 336.72L249.24 338.87L266.66 340.49L284.08 341.57L301.50 341.57" fill="none" stroke="#e89a2a" stroke-width="1.15" stroke-linejoin="round"/>
<path d="M214.40 290.93V285.55M212.80 285.55H216.00" stroke="#e89a2a" stroke-width="0.8" fill="none"/>
<path d="M214.40 288.88L216.35 292.38L212.45 292.38Z" fill="#e89a2a"/>
<path d="M231.82 334.67L233.77 338.17L229.87 338.17Z" fill="#e89a2a"/>
<path d="M249.24 336.82L251.19 340.32L247.29 340.32Z" fill="#e89a2a"/>
<path d="M266.66 338.44L268.61 341.94L264.71 341.94Z" fill="#e89a2a"/>
<path d="M284.08 339.52L286.03 343.02L282.13 343.02Z" fill="#e89a2a"/>
<path d="M301.50 339.52L303.45 343.02L299.55 343.02Z" fill="#e89a2a"/>
<text transform="translate(341.3,302.5) rotate(-90)" font-size="10.4" text-anchor="middle" fill="#222" textLength="46.6" lengthAdjust="spacingAndGlyphs">Survival (%)</text>
<text x="391.8" y="375.8" font-size="11.3" fill="#222" textLength="77.2" lengthAdjust="spacingAndGlyphs">Concentration (&#181;M)</text>
<path d="M369.2 260.6V344.8H473" fill="none" stroke="#000" stroke-width="1.3"/>
<path d="M365.7 344.80H369.2" stroke="#000" stroke-width="1"/>
<text x="362.09999999999997" y="348.15" font-size="10.1" text-anchor="end" font-weight="normal" font-style="normal" fill="#222" textLength="5.0" lengthAdjust="spacingAndGlyphs">0</text>
<path d="M365.7 317.87H369.2" stroke="#000" stroke-width="1"/>
<text x="362.09999999999997" y="321.22" font-size="10.1" text-anchor="end" font-weight="normal" font-style="normal" fill="#222" textLength="9.4" lengthAdjust="spacingAndGlyphs">50</text>
<path d="M365.7 290.93H369.2" stroke="#000" stroke-width="1"/>
<text x="362.09999999999997" y="294.28" font-size="10.1" text-anchor="end" font-weight="normal" font-style="normal" fill="#222" textLength="14.5" lengthAdjust="spacingAndGlyphs">100</text>
<path d="M365.7 264.00H369.2" stroke="#000" stroke-width="1"/>
<text x="362.09999999999997" y="267.35" font-size="10.1" text-anchor="end" font-weight="normal" font-style="normal" fill="#222" textLength="14.5" lengthAdjust="spacingAndGlyphs">150</text>
<path d="M377.90 344.8V348.1" stroke="#000" stroke-width="1"/>
<path d="M395.32 344.8V348.1" stroke="#000" stroke-width="1"/>
<text x="395.32" y="359.90" font-size="9.9" text-anchor="middle" font-weight="normal" font-style="normal" fill="#222" textLength="5.0" lengthAdjust="spacingAndGlyphs">1</text>
<path d="M412.74 344.8V348.1" stroke="#000" stroke-width="1"/>
<text x="412.74" y="359.90" font-size="9.9" text-anchor="middle" font-weight="normal" font-style="normal" fill="#222" textLength="5.0" lengthAdjust="spacingAndGlyphs">2</text>
<path d="M430.16 344.8V348.1" stroke="#000" stroke-width="1"/>
<text x="430.16" y="359.90" font-size="9.9" text-anchor="middle" font-weight="normal" font-style="normal" fill="#222" textLength="5.0" lengthAdjust="spacingAndGlyphs">4</text>
<path d="M447.58 344.8V348.1" stroke="#000" stroke-width="1"/>
<text x="447.58" y="359.90" font-size="9.9" text-anchor="middle" font-weight="normal" font-style="normal" fill="#222" textLength="5.0" lengthAdjust="spacingAndGlyphs">8</text>
<path d="M465.00 344.8V348.1" stroke="#000" stroke-width="1"/>
<text x="465.00" y="359.90" font-size="9.9" text-anchor="middle" font-weight="normal" font-style="normal" fill="#222" textLength="9.4" lengthAdjust="spacingAndGlyphs">16</text>
<text transform="translate(381.20,352.20) rotate(-90)" font-size="10.4" text-anchor="end" fill="#222" textLength="27.6" lengthAdjust="spacingAndGlyphs">DMSO</text>
<path d="M377.90 290.93L395.32 292.55L412.74 292.55L430.16 293.63L447.58 296.32L465.00 301.71" fill="none" stroke="#c4c4c4" stroke-width="1.15" stroke-linejoin="round"/>
<path d="M447.58 296.32V295.24M445.98 295.24H449.18" stroke="#c4c4c4" stroke-width="0.8" fill="none"/>
<path d="M465.00 301.71V300.63M463.40 300.63H466.60" stroke="#c4c4c4" stroke-width="0.8" fill="none"/>
<circle cx="377.90" cy="290.93" r="1.9" fill="#fff" stroke="#b8b8b8" stroke-width="0.9"/>
<circle cx="395.32" cy="292.55" r="1.9" fill="#fff" stroke="#b8b8b8" stroke-width="0.9"/>
<circle cx="412.74" cy="292.55" r="1.9" fill="#fff" stroke="#b8b8b8" stroke-width="0.9"/>
<circle cx="430.16" cy="293.63" r="1.9" fill="#fff" stroke="#b8b8b8" stroke-width="0.9"/>
<circle cx="447.58" cy="296.32" r="1.9" fill="#fff" stroke="#b8b8b8" stroke-width="0.9"/>
<circle cx="465.00" cy="301.71" r="1.9" fill="#fff" stroke="#b8b8b8" stroke-width="0.9"/>
<path d="M377.90 290.93L395.32 293.63L412.74 293.09L430.16 293.63L447.58 297.94L465.00 306.02" fill="none" stroke="#4a5470" stroke-width="1.15" stroke-linejoin="round"/>
<rect x="376.00" y="288.73" width="3.8" height="4.4" rx="1.0" fill="#fff" stroke="#4a5470" stroke-width="1.1"/>
<rect x="393.42" y="291.43" width="3.8" height="4.4" rx="1.0" fill="#fff" stroke="#4a5470" stroke-width="1.1"/>
<rect x="410.84" y="290.89" width="3.8" height="4.4" rx="1.0" fill="#fff" stroke="#4a5470" stroke-width="1.1"/>
<rect x="428.26" y="291.43" width="3.8" height="4.4" rx="1.0" fill="#fff" stroke="#4a5470" stroke-width="1.1"/>
<rect x="445.68" y="295.74" width="3.8" height="4.4" rx="1.0" fill="#fff" stroke="#4a5470" stroke-width="1.1"/>
<rect x="463.10" y="303.82" width="3.8" height="4.4" rx="1.0" fill="#fff" stroke="#4a5470" stroke-width="1.1"/>
<path d="M377.90 290.93L395.32 293.63L412.74 293.63L430.16 294.70L447.58 301.71L465.00 316.79" fill="none" stroke="#8174c0" stroke-width="1.15" stroke-linejoin="round"/>
<path d="M377.90 289.18L379.65 290.93L377.90 292.68L376.15 290.93Z" fill="#8174c0"/>
<path d="M395.32 291.88L397.07 293.63L395.32 295.38L393.57 293.63Z" fill="#8174c0"/>
<path d="M412.74 291.88L414.49 293.63L412.74 295.38L410.99 293.63Z" fill="#8174c0"/>
<path d="M430.16 292.95L431.91 294.70L430.16 296.45L428.41 294.70Z" fill="#8174c0"/>
<path d="M447.58 299.96L449.33 301.71L447.58 303.46L445.83 301.71Z" fill="#8174c0"/>
<path d="M465.00 315.04L466.75 316.79L465.00 318.54L463.25 316.79Z" fill="#8174c0"/>
<path d="M377.90 290.93L395.32 296.32L412.74 294.17L430.16 297.94L447.58 300.63L465.00 316.79" fill="none" stroke="#58a932" stroke-width="1.15" stroke-linejoin="round"/>
<path d="M377.90 288.88L379.85 292.38L375.95 292.38Z" fill="#58a932"/>
<path d="M395.32 294.27L397.27 297.77L393.37 297.77Z" fill="#58a932"/>
<path d="M412.74 292.12L414.69 295.62L410.79 295.62Z" fill="#58a932"/>
<path d="M430.16 295.89L432.11 299.39L428.21 299.39Z" fill="#58a932"/>
<path d="M447.58 298.58L449.53 302.08L445.63 302.08Z" fill="#58a932"/>
<path d="M465.00 314.74L466.95 318.24L463.05 318.24Z" fill="#58a932"/>
<path d="M377.90 290.93L395.32 292.55L412.74 293.09L430.16 293.09L447.58 312.48L465.00 328.10" fill="none" stroke="#cc0c82" stroke-width="1.15" stroke-linejoin="round"/>
<path d="M377.90 292.98L379.85 289.48L375.95 289.48Z" fill="#cc0c82"/>
<path d="M395.32 294.60L397.27 291.10L393.37 291.10Z" fill="#cc0c82"/>
<path d="M412.74 295.14L414.69 291.64L410.79 291.64Z" fill="#cc0c82"/>
<path d="M430.16 295.14L432.11 291.64L428.21 291.64Z" fill="#cc0c82"/>
<path d="M447.58 314.53L449.53 311.03L445.63 311.03Z" fill="#cc0c82"/>
<path d="M465.00 330.15L466.95 326.65L463.05 326.65Z" fill="#cc0c82"/>
<path d="M377.90 290.93L395.32 295.24L412.74 296.86L430.16 304.94L447.58 319.48L465.00 328.10" fill="none" stroke="#21408a" stroke-width="1.15" stroke-linejoin="round"/>
<path d="M377.90 290.93V288.78M376.30 288.78H379.50" stroke="#21408a" stroke-width="0.8" fill="none"/>
<rect x="376.15" y="289.18" width="3.50" height="3.50" fill="#21408a"/>
<rect x="393.57" y="293.49" width="3.50" height="3.50" fill="#21408a"/>
<rect x="410.99" y="295.11" width="3.50" height="3.50" fill="#21408a"/>
<rect x="428.41" y="303.19" width="3.50" height="3.50" fill="#21408a"/>
<rect x="445.83" y="317.73" width="3.50" height="3.50" fill="#21408a"/>
<rect x="463.25" y="326.35" width="3.50" height="3.50" fill="#21408a"/>
<path d="M377.90 290.93L395.32 291.47L412.74 292.55L430.16 293.09L447.58 297.94L465.00 302.78" fill="none" stroke="#a3163c" stroke-width="1.15" stroke-linejoin="round"/>
<circle cx="377.90" cy="290.93" r="1.75" fill="#a3163c"/>
<circle cx="395.32" cy="291.47" r="1.75" fill="#a3163c"/>
<circle cx="412.74" cy="292.55" r="1.75" fill="#a3163c"/>
<circle cx="430.16" cy="293.09" r="1.75" fill="#a3163c"/>
<circle cx="447.58" cy="297.94" r="1.75" fill="#a3163c"/>
<circle cx="465.00" cy="302.78" r="1.75" fill="#a3163c"/>
<path d="M377.90 290.93L395.32 344.26L412.74 344.26L430.16 344.26L447.58 344.26L465.00 344.26" fill="none" stroke="#e89a2a" stroke-width="1.15" stroke-linejoin="round"/>
<path d="M377.90 288.88L379.85 292.38L375.95 292.38Z" fill="#e89a2a"/>
<path d="M395.32 342.21L397.27 345.71L393.37 345.71Z" fill="#e89a2a"/>
<path d="M412.74 342.21L414.69 345.71L410.79 345.71Z" fill="#e89a2a"/>
<path d="M430.16 342.21L432.11 345.71L428.21 345.71Z" fill="#e89a2a"/>
<path d="M447.58 342.21L449.53 345.71L445.63 345.71Z" fill="#e89a2a"/>
<path d="M465.00 342.21L466.95 345.71L463.05 345.71Z" fill="#e89a2a"/>
<path d="M211.0 262.7H222.0" stroke="#a3163c" stroke-width="1.1"/>
<circle cx="216.50" cy="262.70" r="2.30" fill="#a3163c"/>
<text x="224.6" y="265.8" font-size="8.6" text-anchor="start" font-weight="normal" font-style="normal" fill="#222" textLength="14.5" lengthAdjust="spacingAndGlyphs">Rux</text>
<path d="M211.0 273.8H222.0" stroke="#e89a2a" stroke-width="1.1"/>
<path d="M216.50 271.20L219.00 275.80L214.00 275.80Z" fill="#e89a2a"/>
<text x="224.6" y="276.9" font-size="8.6" text-anchor="start" font-weight="normal" font-style="normal" fill="#222" textLength="15" lengthAdjust="spacingAndGlyphs">Pan</text>
<path d="M375.4 262.7H386.4" stroke="#a3163c" stroke-width="1.1"/>
<circle cx="380.90" cy="262.70" r="2.30" fill="#a3163c"/>
<text x="389.0" y="265.8" font-size="8.6" text-anchor="start" font-weight="normal" font-style="normal" fill="#222" textLength="14.5" lengthAdjust="spacingAndGlyphs">Rux</text>
<path d="M375.4 273.8H386.4" stroke="#e89a2a" stroke-width="1.1"/>
<path d="M380.90 271.20L383.40 275.80L378.40 275.80Z" fill="#e89a2a"/>
<text x="389.0" y="276.9" font-size="8.6" text-anchor="start" font-weight="normal" font-style="normal" fill="#222" textLength="15" lengthAdjust="spacingAndGlyphs">Pan</text>
<path d="M43.6 437.2V521.8H138.5" fill="none" stroke="#111" stroke-width="1.3"/>
<path d="M40.2 521.80H43.6" stroke="#111" stroke-width="1"/>
<text x="38.6" y="525.00" font-size="9.6" text-anchor="end" font-weight="normal" font-style="normal" fill="#222" textLength="5.2" lengthAdjust="spacingAndGlyphs">0</text>
<path d="M40.2 505.35H43.6" stroke="#111" stroke-width="1"/>
<text x="38.6" y="508.55" font-size="9.6" text-anchor="end" font-weight="normal" font-style="normal" fill="#222" textLength="10.6" lengthAdjust="spacingAndGlyphs">20</text>
<path d="M40.2 488.90H43.6" stroke="#111" stroke-width="1"/>
<text x="38.6" y="492.10" font-size="9.6" text-anchor="end" font-weight="normal" font-style="normal" fill="#222" textLength="10.6" lengthAdjust="spacingAndGlyphs">40</text>
<path d="M40.2 472.45H43.6" stroke="#111" stroke-width="1"/>
<text x="38.6" y="475.65" font-size="9.6" text-anchor="end" font-weight="normal" font-style="normal" fill="#222" textLength="10.6" lengthAdjust="spacingAndGlyphs">60</text>
<path d="M40.2 456.00H43.6" stroke="#111" stroke-width="1"/>
<text x="38.6" y="459.20" font-size="9.6" text-anchor="end" font-weight="normal" font-style="normal" fill="#222" textLength="10.6" lengthAdjust="spacingAndGlyphs">80</text>
<path d="M40.2 439.55H43.6" stroke="#111" stroke-width="1"/>
<text x="38.6" y="442.75" font-size="9.6" text-anchor="end" font-weight="normal" font-style="normal" fill="#222" textLength="14.6" lengthAdjust="spacingAndGlyphs">100</text>
<rect x="49" y="453.80" width="21.10" height="68.00" fill="#afbd86"/><path d="M59.55 453.80V448.30M54.40 448.30H64.70" stroke="#222" stroke-width="1.2" fill="none"/>
<rect x="80.4" y="489.90" width="21.60" height="31.90" fill="#a4002c"/><path d="M91.20 489.90V487.70M86.05 487.70H96.35" stroke="#222" stroke-width="1.2" fill="none"/>
<rect x="111.9" y="461.70" width="21.40" height="60.10" fill="#2e4c7c"/><path d="M122.60 461.70V454.80M117.45 454.80H127.75" stroke="#222" stroke-width="1.2" fill="none"/>
<path d="M43.6 437.2V521.8H138.5" fill="none" stroke="#111" stroke-width="1.3"/>
<path d="M59.6 521.8V525.0999999999999" stroke="#111" stroke-width="1"/>
<path d="M91.2 521.8V525.0999999999999" stroke="#111" stroke-width="1"/>
<path d="M122.6 521.8V525.0999999999999" stroke="#111" stroke-width="1"/>
<path d="M59.4 432.1V429.8H123.1V432.1" fill="none" stroke="#222" stroke-width="1.25"/>
<text x="91" y="428" font-size="8.6" text-anchor="middle" font-weight="normal" font-style="normal" fill="#222">n.s.</text>
<path d="M59.4 445.2V442.9H91V445.2" fill="none" stroke="#222" stroke-width="1.25"/>
<text x="74.9" y="442.4" font-size="9.4" text-anchor="middle" font-weight="normal" font-style="normal" fill="#222" textLength="15.5" lengthAdjust="spacingAndGlyphs">****</text>
<path d="M91 451.3V449H123.1V451.3" fill="none" stroke="#222" stroke-width="1.25"/>
<text x="107.3" y="448.2" font-size="9.4" text-anchor="middle" font-weight="normal" font-style="normal" fill="#222">*</text>
<text transform="translate(17.3,479.1) rotate(-90)" font-size="10" text-anchor="middle" fill="#222" textLength="60.6" lengthAdjust="spacingAndGlyphs">Colony number</text>
<text x="59.4" y="537" font-size="9.5" text-anchor="middle" font-weight="normal" font-style="normal" fill="#222" textLength="27.5" lengthAdjust="spacingAndGlyphs">DMSO</text>
<text x="91.2" y="537" font-size="9.5" text-anchor="middle" font-weight="normal" font-style="normal" fill="#222" textLength="14.7" lengthAdjust="spacingAndGlyphs">Rux</text>
<text x="122.6" y="537" font-size="9.5" text-anchor="middle" font-weight="normal" font-style="normal" fill="#222" textLength="25.9" lengthAdjust="spacingAndGlyphs">FT234</text>
<text x="35.8" y="548.5" font-size="9.5" text-anchor="start" font-weight="normal" font-style="normal" fill="#222" textLength="108" lengthAdjust="spacingAndGlyphs">Bone Marrow + Cytokines</text>
<path d="M41.5 554.5H140.3" stroke="#222" stroke-width="1.2"/>
<text x="67.8" y="569.0" font-size="10" text-anchor="start" font-weight="normal" font-style="italic" fill="#222" textLength="19.2" lengthAdjust="spacingAndGlyphs">MPL</text>
<text x="86.6" y="565.2" font-size="7.6" text-anchor="start" font-weight="normal" font-style="italic" fill="#222" textLength="11.4" lengthAdjust="spacingAndGlyphs">WT</text>
<text x="99.9" y="569.0" font-size="10" text-anchor="start" font-weight="normal" font-style="normal" fill="#222" textLength="14.0" lengthAdjust="spacingAndGlyphs">BM</text>
<path d="M188.8 437.2V521.6H284.7" fill="none" stroke="#111" stroke-width="1.3"/>
<path d="M185.4 521.60H188.8" stroke="#111" stroke-width="1"/>
<text x="182.2" y="524.80" font-size="9.6" text-anchor="end" font-weight="normal" font-style="normal" fill="#222" textLength="5.2" lengthAdjust="spacingAndGlyphs">0</text>
<path d="M185.4 501.25H188.8" stroke="#111" stroke-width="1"/>
<text x="182.2" y="504.44" font-size="9.6" text-anchor="end" font-weight="normal" font-style="normal" fill="#222" textLength="10.6" lengthAdjust="spacingAndGlyphs">50</text>
<path d="M185.4 480.89H188.8" stroke="#111" stroke-width="1"/>
<text x="182.2" y="484.09" font-size="9.6" text-anchor="end" font-weight="normal" font-style="normal" fill="#222" textLength="15.0" lengthAdjust="spacingAndGlyphs">100</text>
<path d="M185.4 460.54H188.8" stroke="#111" stroke-width="1"/>
<text x="182.2" y="463.74" font-size="9.6" text-anchor="end" font-weight="normal" font-style="normal" fill="#222" textLength="15.0" lengthAdjust="spacingAndGlyphs">150</text>
<path d="M185.4 440.18H188.8" stroke="#111" stroke-width="1"/>
<text x="182.2" y="443.38" font-size="9.6" text-anchor="end" font-weight="normal" font-style="normal" fill="#222" textLength="15.0" lengthAdjust="spacingAndGlyphs">200</text>
<rect x="194" y="465.10" width="21.80" height="56.50" fill="#afbd86"/><path d="M204.90 465.10V458.90M199.75 458.90H210.05" stroke="#222" stroke-width="1.2" fill="none"/>
<rect x="225.5" y="500.80" width="21.50" height="20.80" fill="#a4002c"/><path d="M236.25 500.80V498.00M231.10 498.00H241.40" stroke="#222" stroke-width="1.2" fill="none"/>
<rect x="256.8" y="483.50" width="21.60" height="38.10" fill="#2e4c7c"/><path d="M267.60 483.50V475.00M262.45 475.00H272.75" stroke="#222" stroke-width="1.2" fill="none"/>
<path d="M188.8 437.2V521.6H284.7" fill="none" stroke="#111" stroke-width="1.3"/>
<path d="M204.9 521.6V524.9" stroke="#111" stroke-width="1"/>
<path d="M236.6 521.6V524.9" stroke="#111" stroke-width="1"/>
<path d="M267.9 521.6V524.9" stroke="#111" stroke-width="1"/>
<path d="M204.3 432.1V429.8H268.4V432.1" fill="none" stroke="#222" stroke-width="1.25"/>
<text x="236.5" y="430.5" font-size="9.4" text-anchor="middle" font-weight="normal" font-style="normal" fill="#222">*</text>
<path d="M204.3 444.8V442.5H236.7V444.8" fill="none" stroke="#222" stroke-width="1.25"/>
<text x="220.5" y="442.6" font-size="9.4" text-anchor="middle" font-weight="normal" font-style="normal" fill="#222" textLength="15.5" lengthAdjust="spacingAndGlyphs">****</text>
<path d="M236.7 451.1V448.8H268.4V451.1" fill="none" stroke="#222" stroke-width="1.25"/>
<text x="252.6" y="449.6" font-size="9.4" text-anchor="middle" font-weight="normal" font-style="normal" fill="#222">*</text>
<text transform="translate(160.3,479.1) rotate(-90)" font-size="10" text-anchor="middle" fill="#222" textLength="60.6" lengthAdjust="spacingAndGlyphs">Colony number</text>
<text x="204.85" y="537" font-size="9.5" text-anchor="middle" font-weight="normal" font-style="normal" fill="#222" textLength="28.4" lengthAdjust="spacingAndGlyphs">DMSO</text>
<text x="236.1" y="537" font-size="9.5" text-anchor="middle" font-weight="normal" font-style="normal" fill="#222" textLength="15.6" lengthAdjust="spacingAndGlyphs">Rux</text>
<text x="267.25" y="537" font-size="9.5" text-anchor="middle" font-weight="normal" font-style="normal" fill="#222" textLength="26.4" lengthAdjust="spacingAndGlyphs">FT234</text>
<text x="177.9" y="548.4" font-size="9.5" text-anchor="start" font-weight="normal" font-style="normal" fill="#222" textLength="114.4" lengthAdjust="spacingAndGlyphs">Bone Marrow No Cytokines</text>
<path d="M186.6 554.3H284.8" stroke="#222" stroke-width="1.2"/>
<text x="207.0" y="568.6" font-size="10" text-anchor="start" font-weight="normal" font-style="italic" fill="#222" textLength="18.8" lengthAdjust="spacingAndGlyphs">MPL</text>
<text x="225.9" y="564.8" font-size="7.6" text-anchor="start" font-weight="normal" font-style="italic" fill="#222" textLength="24.0" lengthAdjust="spacingAndGlyphs">W515L</text>
<text x="250.6" y="568.6" font-size="10" text-anchor="start" font-weight="normal" font-style="normal" fill="#222" textLength="14.6" lengthAdjust="spacingAndGlyphs">BM</text>
<path d="M345.0 433.4V537.7H493" fill="none" stroke="#111" stroke-width="1.3"/>
<path d="M341.6 537.70H345.0" stroke="#111" stroke-width="1"/>
<text x="338.4" y="540.90" font-size="9.6" text-anchor="end" font-weight="normal" font-style="normal" fill="#222" textLength="5.2" lengthAdjust="spacingAndGlyphs">0</text>
<path d="M341.6 503.94H345.0" stroke="#111" stroke-width="1"/>
<text x="338.4" y="507.14" font-size="9.6" text-anchor="end" font-weight="normal" font-style="normal" fill="#222" textLength="10.6" lengthAdjust="spacingAndGlyphs">50</text>
<path d="M341.6 470.17H345.0" stroke="#111" stroke-width="1"/>
<text x="338.4" y="473.37" font-size="9.6" text-anchor="end" font-weight="normal" font-style="normal" fill="#222" textLength="15.0" lengthAdjust="spacingAndGlyphs">100</text>
<path d="M341.6 436.41H345.0" stroke="#111" stroke-width="1"/>
<text x="338.4" y="439.61" font-size="9.6" text-anchor="end" font-weight="normal" font-style="normal" fill="#222" textLength="15.0" lengthAdjust="spacingAndGlyphs">150</text>
<rect x="359.5" y="470.20" width="29.40" height="67.50" fill="#c6c4c9"/><path d="M374.20 470.20V457.10M366.90 457.10H381.50" stroke="#222" stroke-width="1.2" fill="none"/>
<rect x="404.2" y="491.60" width="29.00" height="46.10" fill="#a4002c"/><path d="M418.70 491.60V485.90M411.60 485.90H425.80" stroke="#222" stroke-width="1.2" fill="none"/>
<rect x="448.6" y="499.20" width="29.10" height="38.50" fill="#2e4c7c"/><path d="M463.15 499.20V494.50M455.75 494.50H470.55" stroke="#222" stroke-width="1.2" fill="none"/>
<path d="M345.0 433.4V537.7H493" fill="none" stroke="#111" stroke-width="1.3"/>
<path d="M374.2 537.7V541.0" stroke="#111" stroke-width="1"/>
<path d="M418.7 537.7V541.0" stroke="#111" stroke-width="1"/>
<path d="M463.1 537.7V541.0" stroke="#111" stroke-width="1"/>
<path d="M362 428.4H457.3" stroke="#222" stroke-width="1.2"/>
<text x="409.75" y="428.6" font-size="9.4" text-anchor="middle" font-weight="normal" font-style="normal" fill="#222" textLength="12" lengthAdjust="spacingAndGlyphs">***</text>
<path d="M361.5 436.9H407.7" stroke="#222" stroke-width="1.2"/>
<text x="382.3" y="436.7" font-size="9.4" text-anchor="middle" font-weight="normal" font-style="normal" fill="#222" textLength="8" lengthAdjust="spacingAndGlyphs">**</text>
<text transform="translate(316.4,485.3) rotate(-90)" font-size="10.4" text-anchor="middle" fill="#222" textLength="46" lengthAdjust="spacingAndGlyphs">Survival (%)</text>
<text x="373.9" y="552.7" font-size="9.9" text-anchor="middle" font-weight="normal" font-style="normal" fill="#222" textLength="29.6" lengthAdjust="spacingAndGlyphs">Control</text>
<text x="418.1" y="552.7" font-size="9.9" text-anchor="middle" font-weight="normal" font-style="normal" fill="#222" textLength="42.6" lengthAdjust="spacingAndGlyphs">ShHD11-1</text>
<text x="462.6" y="552.7" font-size="9.9" text-anchor="middle" font-weight="normal" font-style="normal" fill="#222" textLength="42.8" lengthAdjust="spacingAndGlyphs">ShHD11-2</text>
<path d="M371.5 558.3H470.9" stroke="#222" stroke-width="1.2"/>
<text x="371.3" y="569.5" font-size="9.9" text-anchor="start" font-weight="normal" font-style="normal" fill="#222" textLength="99.5" lengthAdjust="spacingAndGlyphs">IPTG-treated SET2 Cells</text>
<rect x="419.8" y="448.1" width="52.3" height="12.5" fill="#dedede"/>
<rect x="419.8" y="462.7" width="52.3" height="15.8" fill="#d9d9d9"/>
<defs><filter id="bl" x="-20%" y="-60%" width="140%" height="220%"><feGaussianBlur stdDeviation="0.45"/></filter></defs>
<g filter="url(#bl)">
<rect x="422.7" y="453.8" width="11.5" height="2.7" rx="1.3" fill="#111"/>
<rect x="438.5" y="454.1" width="12.7" height="2.0" rx="1" fill="#959595"/>
<rect x="455.8" y="453.2" width="13.3" height="2.5" rx="1.2" fill="#383838"/>
<rect x="420.8" y="468.5" width="15" height="5" rx="2.3" fill="#0d0d0d"/>
<rect x="437.7" y="467.7" width="17.5" height="5" rx="2.3" fill="#0d0d0d"/>
<rect x="457.2" y="467.2" width="14.1" height="5.2" rx="2.3" fill="#0d0d0d"/>
</g>
<text x="427.8" y="442.4" font-size="9.6" text-anchor="middle" font-weight="normal" font-style="normal" fill="#222" textLength="7.2" lengthAdjust="spacingAndGlyphs">C</text>
<text x="447.8" y="442.4" font-size="9.6" text-anchor="middle" font-weight="normal" font-style="normal" fill="#222" textLength="15.6" lengthAdjust="spacingAndGlyphs">Sh1</text>
<text x="466.8" y="442.4" font-size="9.6" text-anchor="middle" font-weight="normal" font-style="normal" fill="#222" textLength="15.8" lengthAdjust="spacingAndGlyphs">Sh2</text>
<text x="476.2" y="458.3" font-size="9.2" text-anchor="start" font-weight="normal" font-style="normal" fill="#222" textLength="35" lengthAdjust="spacingAndGlyphs">HDAC11</text>
<text x="476.5" y="475.6" font-size="9.2" text-anchor="start" font-weight="normal" font-style="normal" fill="#222" textLength="28.5" lengthAdjust="spacingAndGlyphs">&#946;-Actin</text>
<rect x="0" y="0" width="520" height="0.95" fill="#000"/><rect x="0" y="0" width="1.2" height="580" fill="#000"/><rect x="518.5" y="0" width="1.5" height="580" fill="#000"/><rect x="0" y="578.3" width="520" height="1.7" fill="#000"/>
</svg></body></html>
